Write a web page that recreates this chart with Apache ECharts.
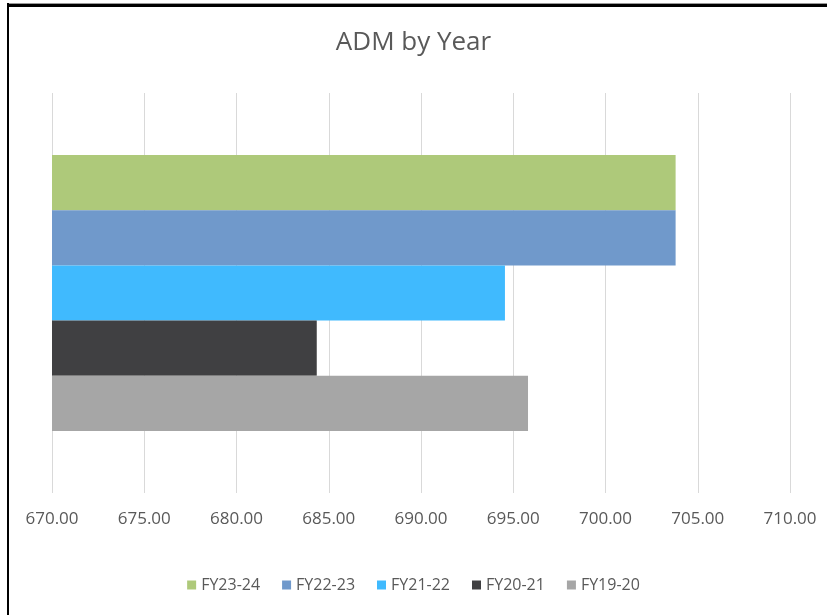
<!DOCTYPE html>
<html><head><meta charset="utf-8">
<script src="https://cdn.jsdelivr.net/npm/echarts@6/dist/echarts.min.js"></script>
<style>html,body{margin:0;padding:0;background:#fff}#c{width:827px;height:615px}</style>
</head><body><div id="c"></div>
<script>
const categories = ['ADM'];
const seriesNames = ['FY23-24', 'FY22-23', 'FY21-22', 'FY20-21', 'FY19-20'];
const seriesValues = [703.8, 703.8, 694.55, 684.35, 695.8];
const seriesColors = ['#AEC97A', '#7099CB', '#40BAFE', '#404042', '#A6A6A6'];
const xTicks = { min: 670, max: 710, interval: 5 };

const font = "'Open Sans', sans-serif";
const chart = echarts.init(document.getElementById('c'));
chart.setOption({
  animation: false,
  title: { text: 'ADM by Year', left: 'center', top: 25,
    textStyle: { fontFamily: font, fontSize: 26, fontWeight: 'normal', color: '#595959' } },
  grid: { left: 52, right: 37, top: 93, bottom: 122, containLabel: false },
  legend: { bottom: 17, left: 'center', itemWidth: 9, itemHeight: 9, itemGap: 22,
    icon: 'rect', textStyle: { fontFamily: font, fontSize: 16, color: '#595959' },
    data: seriesNames },
  xAxis: { type: 'value', min: xTicks.min, max: xTicks.max, interval: xTicks.interval,
    axisLine: { show: false }, axisTick: { show: false },
    splitLine: { lineStyle: { color: '#D9D9D9', width: 1 } },
    axisLabel: { margin: 18, fontFamily: font, fontSize: 17, color: '#595959',
      formatter: v => v.toFixed(2) } },
  yAxis: { type: 'category', data: categories, inverse: true,
    axisLine: { show: false }, axisTick: { show: false }, axisLabel: { show: false } },
  series: seriesNames.map((n, i) => ({
    name: n, type: 'bar', data: [seriesValues[i]],
    itemStyle: { color: seriesColors[i] },
    barGap: '0%', barCategoryGap: '31%'
  })),
  graphic: [
    { type: 'rect', shape: { x: 7, y: 3, width: 820, height: 1 }, style: { fill: '#999' }, silent: true },
    { type: 'rect', shape: { x: 7, y: 4, width: 820, height: 3 }, style: { fill: '#000' }, silent: true },
    { type: 'rect', shape: { x: 7, y: 3, width: 2, height: 612 }, style: { fill: '#000' }, silent: true }
  ]
});
</script></body></html>
